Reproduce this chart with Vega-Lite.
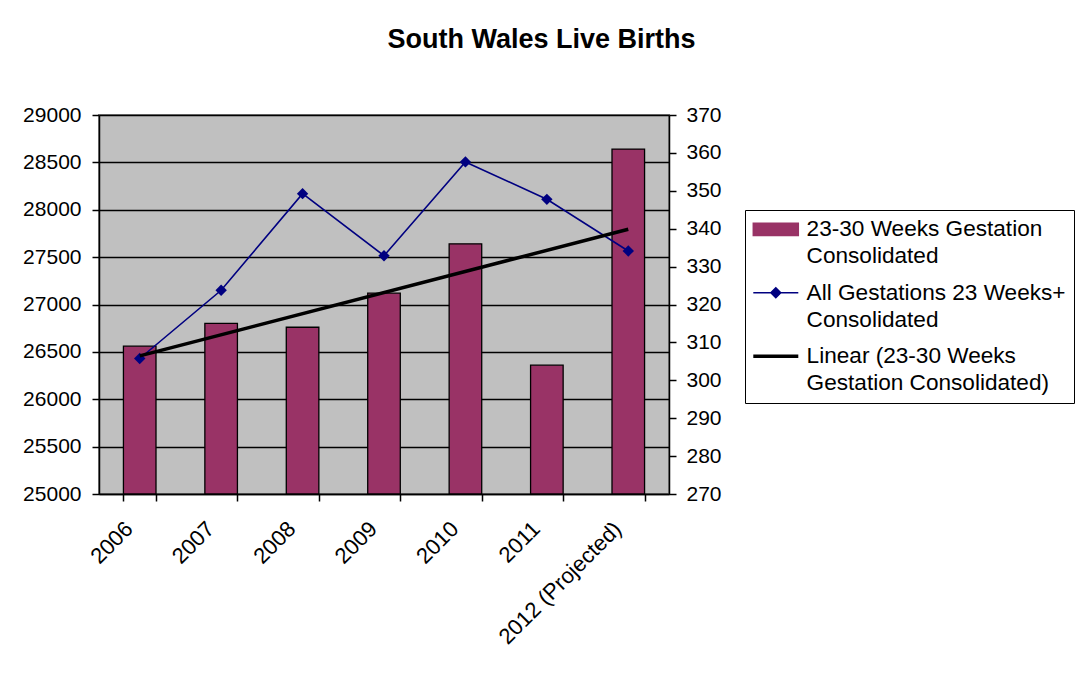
{
  "$schema": "https://vega.github.io/schema/vega-lite/v6.json",
  "width": 570,
  "height": 379,
  "padding": {"left": 22, "top": 26, "right": 5, "bottom": 5},
  "title": {
    "text": "South Wales Live Births",
    "fontSize": 27,
    "font": "Liberation Sans",
    "fontWeight": "bold",
    "color": "#000",
    "anchor": "middle",
    "frame": "bounds",
    "dx": -7,
    "offset": 50
  },
  "datasets": {
    "births": [
      {"year": "2006", "gest_23_30": 309, "all_23plus": 26430},
      {"year": "2007", "gest_23_30": 315, "all_23plus": 27150},
      {"year": "2008", "gest_23_30": 314, "all_23plus": 28170},
      {"year": "2009", "gest_23_30": 323, "all_23plus": 27515},
      {"year": "2010", "gest_23_30": 336, "all_23plus": 28505},
      {"year": "2011", "gest_23_30": 304, "all_23plus": 28110},
      {"year": "2012 (Projected)", "gest_23_30": 361, "all_23plus": 27565}
    ],
    "trend": [
      {"year": "2006", "trend": 306.43},
      {"year": "2012 (Projected)", "trend": 339.86}
    ]
  },
  "layer": [
    {
      "data": {"name": "births"},
      "mark": {"type": "bar", "stroke": "#000", "strokeWidth": 1.3},
      "encoding": {
        "x": {
          "field": "year",
          "type": "nominal",
          "sort": null,
          "scale": {
            "domain": ["2006", "2007", "2008", "2009", "2010", "2011", "2012 (Projected)"],
            "paddingInner": 0.6,
            "paddingOuter": 0.3
          },
          "axis": {
            "title": null,
            "tickBand": "extent",
            "labelAngle": -45,
            "labelAlign": "right",
            "labelBaseline": "middle",
            "labelOffset": -11,
            "labelFontSize": 22,
            "tickSize": 7,
            "labelPadding": 24
          }
        },
        "y": {
          "field": "gest_23_30",
          "type": "quantitative",
          "scale": {"domain": [270, 370], "zero": false},
          "axis": {
            "orient": "right",
            "title": null,
            "grid": false,
            "values": [270, 280, 290, 300, 310, 320, 330, 340, 350, 360, 370],
            "tickSize": 7,
            "labelPadding": 10
          }
        },
        "y2": {"datum": 270},
        "color": {
          "datum": "23-30 Weeks Gestation Consolidated",
          "type": "nominal",
          "scale": {
            "domain": [
              "23-30 Weeks Gestation Consolidated",
              "All Gestations 23 Weeks+ Consolidated",
              "Linear (23-30 Weeks Gestation Consolidated)"
            ],
            "range": ["#993366", "#000080", "#000000"]
          },
          "legend": {
            "title": null,
            "orient": "none",
            "legendX": 646,
            "legendY": 95,
            "strokeColor": "#000",
            "fillColor": "#fff",
            "padding": 8,
            "labelFontSize": 22.6,
            "labelLimit": 400,
            "symbolOffset": 11.5,
            "labelOffset": 19.5,
            "rowPadding": 13.5,
            "symbolSize": 2025,
            "labelExpr": "datum.value == '23-30 Weeks Gestation Consolidated' ? ['23-30 Weeks Gestation', 'Consolidated'] : datum.value == 'All Gestations 23 Weeks+ Consolidated' ? ['All Gestations 23 Weeks+', 'Consolidated'] : ['Linear (23-30 Weeks', 'Gestation Consolidated)']",
            "encoding": {
              "symbols": {
                "shape": {"value": {"expr": "datum.value == '23-30 Weeks Gestation Consolidated' ? 'M-1,-0.27H1V0.27H-1Z' : datum.value == 'All Gestations 23 Weeks+ Consolidated' ? 'M-1,0H1M0,-0.22L0.22,0L0,0.22L-0.22,0Z' : 'M-1,0H1'"}},
                "fill": {"value": {"expr": "datum.value == '23-30 Weeks Gestation Consolidated' ? '#993366' : datum.value == 'All Gestations 23 Weeks+ Consolidated' ? '#000080' : 'transparent'"}},
                "stroke": {"value": {"expr": "datum.value == 'All Gestations 23 Weeks+ Consolidated' ? '#000080' : '#000000'"}},
                "strokeWidth": {"value": {"expr": "datum.value == '23-30 Weeks Gestation Consolidated' ? 1.5 : datum.value == 'All Gestations 23 Weeks+ Consolidated' ? 1.5 : 3.5"}},
                "size": {"value": 2025},
                "opacity": {"value": 1}
              },
              "labels": {
                "lineHeight": {"value": 27}
              }
            }
          }
        }
      }
    },
    {
      "data": {"name": "births"},
      "mark": {
        "type": "line",
        "strokeWidth": 1.6,
        "point": {"shape": "diamond", "size": 130, "filled": true}
      },
      "encoding": {
        "x": {"field": "year", "type": "nominal", "sort": null},
        "y": {
          "field": "all_23plus",
          "type": "quantitative",
          "scale": {"domain": [25000, 29000], "zero": false},
          "axis": {
            "orient": "left",
            "title": null,
            "grid": true,
            "gridColor": "#000",
            "gridWidth": 1.3,
            "gridOpacity": 1,
            "format": "d",
            "values": [25000, 25500, 26000, 26500, 27000, 27500, 28000, 28500, 29000],
            "tickSize": 7,
            "labelPadding": 11
          }
        },
        "color": {"datum": "All Gestations 23 Weeks+ Consolidated", "type": "nominal"}
      }
    },
    {
      "data": {"name": "trend"},
      "mark": {"type": "line", "strokeWidth": 3.5, "strokeCap": "butt"},
      "encoding": {
        "x": {"field": "year", "type": "nominal", "sort": null},
        "y": {
          "field": "trend",
          "type": "quantitative",
          "scale": {"domain": [270, 370], "zero": false},
          "axis": null
        },
        "color": {"datum": "Linear (23-30 Weeks Gestation Consolidated)", "type": "nominal"}
      }
    }
  ],
  "resolve": {"scale": {"y": "independent"}, "axis": {"y": "independent"}},
  "config": {
    "font": "Liberation Sans",
    "background": "#ffffff",
    "view": {"fill": "#C0C0C0", "stroke": "#808080", "strokeWidth": 2},
    "axis": {
      "labelFont": "Liberation Sans",
      "labelFontSize": 21,
      "labelColor": "#000",
      "domainColor": "#000",
      "domainWidth": 1.5,
      "tickColor": "#000",
      "tickWidth": 1.5
    },
    "legend": {
      "labelFont": "Liberation Sans",
      "labelColor": "#000"
    }
  }
}
